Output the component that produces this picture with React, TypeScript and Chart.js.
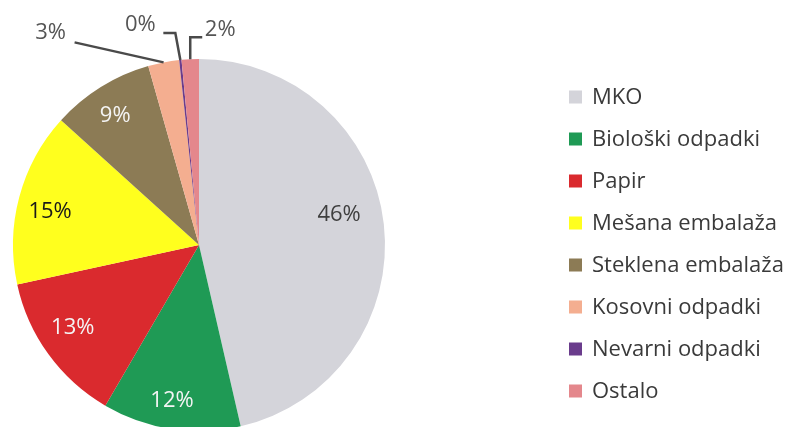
import React, { useEffect, useRef } from "react";
import { Chart, registerables } from "chart.js";

Chart.register(...registerables);

// ---- data ----
const categories = [
  "MKO",
  "Biološki odpadki",
  "Papir",
  "Mešana embalaža",
  "Steklena embalaža",
  "Kosovni odpadki",
  "Nevarni odpadki",
  "Ostalo",
];
const shares = [46.4, 12.0, 13.2, 15.1, 8.9, 2.7, 0.2, 1.5];
const sliceColors = [
  "#D4D4DA",
  "#1F9A55",
  "#DA2A2E",
  "#FFFF1E",
  "#8C7B55",
  "#F4AE90",
  "#6A3C8C",
  "#E4878C",
];
const labelColors = [
  "#3F3F3F",
  "#F4F4F4",
  "#F4F4F4",
  "#1A1A1A",
  "#F4F4F4",
  "#555555",
  "#555555",
  "#555555",
];

// ---- styling of labels ----
const FONT_FAMILY = '"Open Sans", sans-serif';
const LABEL_SIZE = 22;
const LEGEND_SIZE = 22;

// inside labels: radial fraction and small angle tweak (deg)
const insidePlacement: Record<number, { frac: number; turn: number }> = {
  0: { frac: 0.77, turn: -5.6 },
  1: { frac: 0.85, turn: 1.2 },
  2: { frac: 0.81, turn: 2.9 },
  3: { frac: 0.82, turn: -2.4 },
  4: { frac: 0.83, turn: -1.0 },
};
// outside labels: leader path offsets and text offset, relative to arc edge anchor
const outsidePlacement: Record<
  number,
  { path: [number, number][]; text: [number, number] }
> = {
  5: { path: [[-89, -20]], text: [-113, -30] },
  6: { path: [[-5, -27], [-17, -27]], text: [-40, -35] },
  7: { path: [[0, -22], [12, -22]], text: [30, -29] },
};

const labelPlugin = {
  id: "sliceLabels",
  afterDatasetsDraw(chart: any) {
    const ctx = chart.ctx as CanvasRenderingContext2D;
    const meta = chart.getDatasetMeta(0);
    const data = chart.data.datasets[0].data as number[];
    const total = data.reduce((a, b) => a + b, 0);
    ctx.save();
    ctx.font = `${LABEL_SIZE}px ${FONT_FAMILY}`;
    ctx.textAlign = "center";
    ctx.textBaseline = "middle";
    meta.data.forEach((arc: any, i: number) => {
      const p = arc.getProps(
        ["x", "y", "startAngle", "endAngle", "outerRadius"],
        true
      );
      const text = Math.round((data[i] / total) * 100) + "%";
      const mid = (p.startAngle + p.endAngle) / 2;
      if (insidePlacement[i]) {
        const pl = insidePlacement[i];
        const a = mid + (pl.turn * Math.PI) / 180;
        const r = p.outerRadius * pl.frac;
        ctx.fillStyle = labelColors[i];
        ctx.fillText(text, p.x + Math.cos(a) * r, p.y + Math.sin(a) * r);
      } else if (outsidePlacement[i]) {
        const pl = outsidePlacement[i];
        const ax = p.x + Math.cos(mid) * p.outerRadius;
        const ay = p.y + Math.sin(mid) * p.outerRadius;
        ctx.strokeStyle = "#4A4A4A";
        ctx.lineWidth = 2.5;
        ctx.beginPath();
        ctx.moveTo(ax, ay);
        pl.path.forEach(([dx, dy]) => ctx.lineTo(ax + dx, ay + dy));
        ctx.stroke();
        ctx.fillStyle = labelColors[i];
        ctx.fillText(text, ax + pl.text[0], ay + pl.text[1]);
      }
    });
    ctx.restore();
  },
};

const legendPlugin = {
  id: "sideLegend",
  afterDraw(chart: any) {
    const ctx = chart.ctx as CanvasRenderingContext2D;
    const labels = chart.data.labels as string[];
    const colors = chart.data.datasets[0].backgroundColor as string[];
    const boxX = 569;
    const box = 13;
    const textX = 592;
    const y0 = 97;
    const step = 42;
    ctx.save();
    ctx.font = `${LEGEND_SIZE}px ${FONT_FAMILY}`;
    ctx.textAlign = "left";
    ctx.textBaseline = "middle";
    labels.forEach((lab, i) => {
      const y = y0 + i * step;
      ctx.fillStyle = colors[i];
      ctx.fillRect(boxX, y - box / 2, box, box);
      ctx.fillStyle = "#3A3A3A";
      ctx.fillText(lab, textX, y + 1);
    });
    ctx.restore();
  },
};

export default function App() {
  const canvasRef = useRef<HTMLCanvasElement | null>(null);

  useEffect(() => {
    if (!canvasRef.current) return;
    const chart = new Chart(canvasRef.current, {
      type: "pie",
      data: {
        labels: categories,
        datasets: [
          {
            data: shares,
            backgroundColor: sliceColors,
            borderWidth: 0,
          },
        ],
      },
      options: {
        animation: false,
        responsive: true,
        maintainAspectRatio: false,
        layout: { padding: { left: 13, right: 413, top: 59, bottom: 0 } },
        plugins: {
          legend: { display: false },
          tooltip: { enabled: false },
        },
      },
      plugins: [labelPlugin, legendPlugin],
    });
    return () => chart.destroy();
  }, []);

  return (
    <div
      style={{
        position: "fixed",
        left: 0,
        top: 0,
        width: 798,
        height: 427,
        overflow: "hidden",
        background: "#ffffff",
      }}
    >
      <div style={{ position: "relative", width: 798, height: 431 }}>
        <canvas ref={canvasRef} />
      </div>
    </div>
  );
}
